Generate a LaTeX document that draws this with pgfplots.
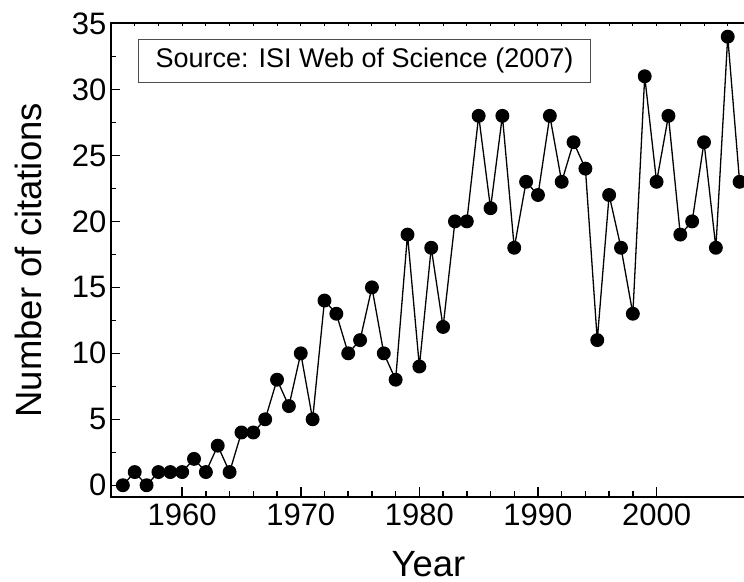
\documentclass[border=0pt]{standalone}
\usepackage{pgfplots}
\pgfplotsset{compat=1.18}
\usepackage{fontspec}
\setmainfont{Liberation Sans}
\newcommand{\ticklabfont}{\fontsize{31}{31}\selectfont}
\begin{document}
\begin{tikzpicture}
\begin{axis}[
  scale only axis,
  width=635pt, height=473.5pt,
  xmin=1954, xmax=2007.54,
  ymin=-0.89, ymax=35,
  axis line style={line width=2pt},
  tick align=inside,
  xtick pos=bottom, ytick pos=left,
  xtick={1960,1970,1980,1990,2000},
  xticklabels={1960,1970,1980,1990,2000},
  minor x tick num=4,
  ytick={0,5,10,15,20,25,30,35},
  yticklabels={0,5,10,15,20,25,30,35},
  minor y tick num=1,
  major tick length=9.5pt,
  minor tick length=5.5pt,
  every tick/.style={line width=1.5pt, black},
  every x tick label/.style={font=\ticklabfont, anchor=north, yshift=-3pt},
  every y tick label/.style={font=\ticklabfont, anchor=east, xshift=-1pt},
  xlabel={Year},
  ylabel={Number of citations},
  label style={font=\fontsize{36.5}{36.5}\selectfont},
  xlabel style={at={(axis description cs:0.5,0)}, anchor=base, yshift=-80pt},
  ylabel style={at={(axis description cs:-0.1087,0.5)}, anchor=base},
]
\addplot[black, line width=1.3pt, mark=*, mark size=6.3pt, mark options={solid, fill=black}] coordinates {
(1955,0) (1956,1) (1957,0) (1958,1) (1959,1) (1960,1) (1961,2) (1962,1) (1963,3) (1964,1)
(1965,4) (1966,4) (1967,5) (1968,8) (1969,6) (1970,10) (1971,5) (1972,14) (1973,13) (1974,10)
(1975,11) (1976,15) (1977,10) (1978,8) (1979,19) (1980,9) (1981,18) (1982,12) (1983,20) (1984,20)
(1985,28) (1986,21) (1987,28) (1988,18) (1989,23) (1990,22) (1991,28) (1992,23) (1993,26) (1994,24)
(1995,11) (1996,22) (1997,18) (1998,13) (1999,31) (2000,23) (2001,28) (2002,19) (2003,20) (2004,26)
(2005,18) (2006,34) (2007,23)
};
\node[draw=black!70, line width=1pt, minimum width=451.6pt, minimum height=42.6pt, inner sep=0pt,
      font=\fontsize{27}{27}\selectfont] at (rel axis cs:0.3992,0.9208) {Source: ISI Web of Science (2007)};
\coordinate (sw) at (rel axis cs:0,0);
\coordinate (ne) at (rel axis cs:1,1);
\end{axis}
\begin{axis}[
  scale only axis,
  width=635pt, height=473.5pt,
  xmin=1954, xmax=2007.54,
  ymin=-0.89, ymax=35,
  axis x line*=top,
  axis y line=none,
  x axis line style={draw=none},
  tick align=inside,
  xtick distance=2,
  xticklabels={},
  major tick length=3pt,
  every tick/.style={line width=1pt, black},
]
\end{axis}
\pgfresetboundingbox
\useasboundingbox ([xshift=-111pt, yshift=-85pt]sw) rectangle ([xshift=-2pt, yshift=23.5pt]ne);
\end{tikzpicture}
\end{document}
